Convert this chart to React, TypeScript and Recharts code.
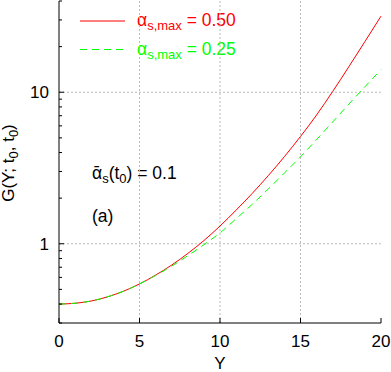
import { LineChart, Line, XAxis, YAxis, ReferenceLine } from "recharts";

// rapidity Y
const rapidity = [0, 1, 2, 3, 4, 5, 6, 7, 8, 9, 10, 11, 12, 13, 14, 15, 16, 17, 18, 19, 20];
// alpha_s,max = 0.50
const gStrong = [
  0.4, 0.405, 0.419, 0.446, 0.486, 0.543, 0.621, 0.724, 0.863, 1.05, 1.309, 1.667, 2.148,
  2.818, 3.758, 5.105, 7.079, 10.12, 14.72, 21.58, 31.77,
];
// alpha_s,max = 0.25
const gWeak = [
  0.4, 0.405, 0.419, 0.446, 0.486, 0.543, 0.618, 0.713, 0.834, 0.986, 1.18, 1.462, 1.82, 2.301,
  2.931, 3.75, 4.875, 6.368, 8.337, 10.86, 14.09,
];

const xTicks = [0, 5, 10, 15, 20];
const xGrid = [5, 10, 15];
const yTicks = [
  0.3, 0.4, 0.5, 0.6, 0.7, 0.8, 0.9, 1, 2, 3, 4, 5, 6, 7, 8, 9, 10, 20, 30, 40,
];
const yMajor = [1, 10];

const data = rapidity.map((y, i) => ({ y, strong: gStrong[i], weak: gWeak[i] }));

const FONT = "'Liberation Sans', Arial, Helvetica, sans-serif";
const RED = "#ff0000";
const GREEN = "#00ff00";

const BottomTick = (props: any) => {
  const { x, y, payload } = props;
  return (
    <g>
      <line x1={x} x2={x} y1={y} y2={y - 5} stroke="#000" />
      <text x={x} y={y + 24} textAnchor="middle" fontSize={17} fontFamily={FONT} fill="#000">
        {payload.value}
      </text>
    </g>
  );
};

const TopTick = (props: any) => {
  const { x, y } = props;
  return <line x1={x} x2={x} y1={y} y2={y + 5} stroke="#000" />;
};

const LeftTick = (props: any) => {
  const { x, y, payload } = props;
  const major = yMajor.includes(payload.value);
  return (
    <g>
      <line x1={x} x2={x + (major ? 5 : 3)} y1={y} y2={y} stroke="#000" />
      {major && (
        <text x={x - 10} y={y} dy="0.36em" textAnchor="end" fontSize={17} fontFamily={FONT} fill="#000">
          {payload.value}
        </text>
      )}
    </g>
  );
};

const RightTick = (props: any) => {
  const { x, y, payload } = props;
  const major = yMajor.includes(payload.value);
  return <line x1={x} x2={x - (major ? 5 : 3)} y1={y} y2={y} stroke="#000" />;
};

export default function App() {
  return (
    <div style={{ position: "absolute", left: 0, top: 0 }}>
      <LineChart
        width={391}
        height={372}
        data={data}
        margin={{ top: 1, right: 10, left: 0, bottom: 0 }}
        style={{ fontFamily: FONT }}
      >
        {xGrid.map((v) => (
          <ReferenceLine key={"gx" + v} x={v} stroke="#bbbbbb" strokeDasharray="2 2" />
        ))}
        {yMajor.map((v) => (
          <ReferenceLine key={"gy" + v} y={v} stroke="#bbbbbb" strokeDasharray="2 2" />
        ))}
        <XAxis
          dataKey="y"
          type="number"
          domain={[0, 20]}
          ticks={xTicks}
          height={49}
          stroke="#000"
          tickLine={false}
          tickSize={0}
          tickMargin={0}
          tick={BottomTick}
          interval={0}
        />
        <XAxis
          xAxisId="top"
          orientation="top"
          dataKey="y"
          type="number"
          domain={[0, 20]}
          ticks={xTicks}
          height={0}
          stroke="#000"
          tickLine={false}
          tickSize={0}
          tickMargin={0}
          tick={TopTick}
          interval={0}
        />
        <YAxis
          scale="log"
          type="number"
          domain={[0.3, 40]}
          allowDataOverflow
          ticks={yTicks}
          width={59}
          stroke="#000"
          tickLine={false}
          tickSize={0}
          tickMargin={0}
          tick={LeftTick}
          interval={0}
        />
        <YAxis
          yAxisId="right"
          orientation="right"
          scale="log"
          type="number"
          domain={[0.3, 40]}
          allowDataOverflow
          ticks={yTicks}
          width={0}
          stroke="#000"
          tickLine={false}
          tickSize={0}
          tickMargin={0}
          tick={RightTick}
          interval={0}
        />
        <Line
          type="monotone"
          dataKey="strong"
          stroke={RED}
          strokeWidth={1}
          dot={false}
          isAnimationActive={false}
        />
        <Line
          type="monotone"
          dataKey="weak"
          stroke={GREEN}
          strokeWidth={1}
          strokeDasharray="7 5"
          dot={false}
          isAnimationActive={false}
        />

        {/* legend */}
        <line x1={80} x2={125} y1={21} y2={21} stroke={RED} />
        <text x={137} y={26} fontSize={17.5} fontFamily={FONT} fill={RED}>
          α<tspan fontSize={13} dy={4}>s,max</tspan>
          <tspan dy={-4}> = 0.50</tspan>
        </text>
        <line x1={80} x2={125} y1={49.5} y2={49.5} stroke={GREEN} strokeDasharray="7 5" />
        <text x={137} y={55} fontSize={17.5} fontFamily={FONT} fill={GREEN}>
          α<tspan fontSize={13} dy={4}>s,max</tspan>
          <tspan dy={-4}> = 0.25</tspan>
        </text>

        {/* annotations */}
        <text x={92} y={179} fontSize={17.5} fontFamily={FONT} fill="#000">
          ᾱ<tspan fontSize={13} dy={4}>s</tspan>
          <tspan dy={-4}>(t</tspan>
          <tspan fontSize={13} dy={4}>0</tspan>
          <tspan dy={-4}>) = 0.1</tspan>
        </text>
        <text x={92} y={222} fontSize={17.5} fontFamily={FONT} fill="#000">
          (a)
        </text>

        {/* axis titles */}
        <text x={220} y={369} textAnchor="middle" fontSize={17} fontFamily={FONT} fill="#000">
          Y
        </text>
        <text
          transform="translate(14,163) rotate(-90)"
          x={0}
          y={0}
          textAnchor="middle"
          fontSize={17}
          fontFamily={FONT}
          fill="#000"
        >
          G(Y; t<tspan fontSize={13} dy={4}>0</tspan>
          <tspan dy={-4}>, t</tspan>
          <tspan fontSize={13} dy={4}>0</tspan>
          <tspan dy={-4}>)</tspan>
        </text>
      </LineChart>
    </div>
  );
}
